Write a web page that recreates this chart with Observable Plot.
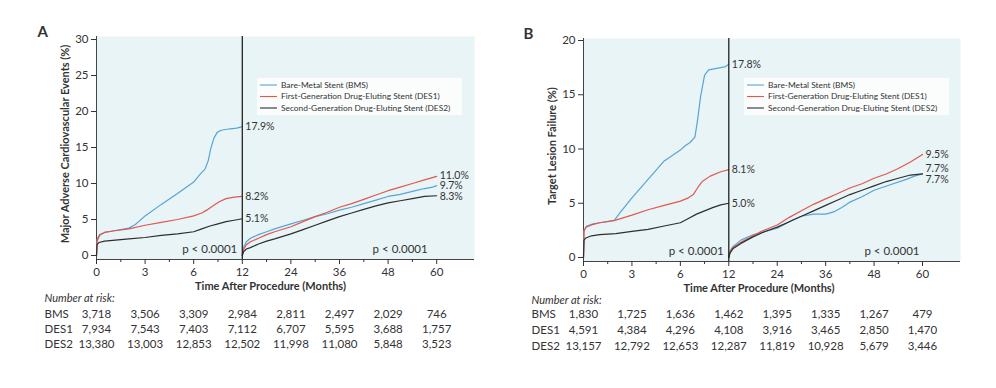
<!DOCTYPE html>
<html><head><meta charset="utf-8">
<script src="https://cdn.jsdelivr.net/npm/d3@7"></script>
<script src="https://cdn.jsdelivr.net/npm/@observablehq/plot@0.6"></script>
<style>
body{margin:0;background:#fff;font-family:Lato,"Open Sans",sans-serif;}
#wrap{position:relative;width:996px;height:388px;overflow:hidden;}
.panel{position:absolute;top:0;width:498px;}
.panel svg{display:block;}
</style></head><body>
<div id="wrap"><div class="panel" id="pa" style="left:0"></div><div class="panel" id="pb" style="left:498px"></div></div>
<script>
const seriesNames = ["BMS", "DES1", "DES2"];
const legendLabels = ["Bare-Metal Stent (BMS)", "First-Generation Drug-Eluting Stent (DES1)", "Second-Generation Drug-Eluting Stent (DES2)"];
const seriesColors = ["#58a5d5", "#e2574e", "#2e2e2e"];
const xTicks = [0, 3, 6, 12, 24, 36, 48, 60];
const xMinorTicks = [1.5, 4.5, 9, 18, 30, 42, 54];
const riskTimes = [0, 3, 6, 12, 24, 36, 48, 60];
const pValueText = "p < 0.0001";
const xTitle = "Time After Procedure (Months)";
const riskTitle = "Number at risk:";

// Panel A: Major adverse cardiovascular events (%)
const maceYTicks = [0, 5, 10, 15, 20, 25, 30];
const maceBmsEarly = [[0,0],[0.03,1.9],[0.2,2.8],[0.5,3.2],[1,3.4],[1.5,3.6],[2,3.8],[2.4,4.3],[3,5.5],[4,7.1],[5,8.6],[6,10.2],[6.8,11.3],[7.4,12.0],[7.8,13.2],[8.1,14.8],[8.5,16.3],[8.9,17.1],[9.4,17.4],[10.5,17.6],[11.3,17.7],[12,17.9]];
const maceDes1Early = [[0,0],[0.03,2.2],[0.2,2.9],[0.5,3.2],[1,3.4],[2,3.7],[3,4.2],[4,4.6],[5,5.0],[6,5.5],[7,5.9],[7.6,6.3],[8.4,6.9],[9.2,7.5],[10,7.9],[11,8.1],[12,8.2]];
const maceDes2Early = [[0,0],[0.03,1.5],[0.15,1.8],[0.5,2.0],[1,2.1],[2,2.3],[3,2.5],[4,2.8],[5,3.0],[6,3.3],[7,3.7],[8,4.1],[9,4.4],[10,4.7],[11,4.9],[12,5.1]];
const maceBmsLate = [[12,0],[12.2,1.0],[13,1.9],[14,2.4],[16,2.9],[18,3.3],[20,3.7],[24,4.4],[27,4.9],[30,5.4],[33,5.8],[36,6.3],[39,6.7],[42,7.2],[45,7.7],[48,8.2],[51,8.5],[54,8.9],[57,9.3],[59,9.5],[60,9.7]];
const maceDes1Late = [[12,0],[12.3,0.8],[13,1.5],[14,1.9],[16,2.4],[18,2.9],[20,3.3],[24,4.0],[27,4.7],[30,5.4],[33,6.0],[36,6.7],[39,7.2],[42,7.8],[45,8.4],[48,9.0],[51,9.5],[54,10.0],[57,10.5],[60,11.0]];
const maceDes2Late = [[12,0],[12.3,0.5],[13,0.9],[14,1.1],[16,1.6],[18,2.0],[20,2.3],[24,3.0],[27,3.6],[30,4.2],[33,4.8],[36,5.4],[39,5.9],[42,6.4],[45,6.9],[48,7.3],[51,7.6],[54,7.9],[57,8.2],[60,8.3]];
const maceRiskBMS = [3718, 3506, 3309, 2984, 2811, 2497, 2029, 746];
const maceRiskDES1 = [7934, 7543, 7403, 7112, 6707, 5595, 3688, 1757];
const maceRiskDES2 = [13380, 13003, 12853, 12502, 11998, 11080, 5848, 3523];

// Panel B: Target lesion failure (%)
const tlfYTicks = [0, 5, 10, 15, 20];
const tlfBmsEarly = [[0,0],[0.03,2.5],[0.2,2.9],[0.6,3.1],[1,3.2],[1.5,3.3],[1.9,3.4],[2.3,4.2],[3,5.5],[4,7.2],[5,8.9],[6,9.9],[6.6,10.3],[7.2,10.6],[7.8,11.1],[8.1,12.5],[8.5,14.8],[9.0,16.8],[9.5,17.3],[11,17.5],[11.6,17.6],[12,17.8]];
const tlfDes1Early = [[0,0],[0.03,2.4],[0.15,2.8],[0.5,3.0],[1,3.2],[2,3.45],[3,3.9],[4,4.4],[5,4.8],[6,5.2],[7,5.5],[7.6,5.8],[8.2,6.5],[8.7,7.0],[9.7,7.5],[11,7.9],[12,8.1]];
const tlfDes2Early = [[0,0],[0.03,1.6],[0.15,1.8],[0.5,2.0],[1,2.1],[2,2.2],[3,2.4],[4,2.6],[5,2.9],[6,3.2],[7,3.6],[8,4.0],[9,4.3],[10,4.6],[11,4.85],[12,5.0]];
const tlfBmsLate = [[12,0],[12.3,0.6],[13,1.0],[15,1.6],[18,2.1],[20,2.3],[24,2.7],[26,3.1],[28,3.5],[30,3.8],[33,4.0],[36,4.0],[38,4.2],[40,4.6],[42,5.1],[45,5.6],[48,6.2],[52,6.7],[56,7.2],[58,7.5],[60,7.7]];
const tlfDes1Late = [[12,0],[12.3,0.5],[13,0.9],[15,1.4],[18,2.0],[20,2.4],[24,3.0],[27,3.7],[30,4.3],[33,4.9],[36,5.4],[39,5.9],[42,6.4],[45,6.8],[48,7.3],[51,7.7],[54,8.2],[57,8.8],[60,9.5]];
const tlfDes2Late = [[12,0],[12.3,0.4],[13,0.8],[15,1.3],[18,1.9],[21,2.4],[24,2.8],[27,3.3],[30,3.8],[33,4.3],[36,4.8],[39,5.3],[42,5.8],[45,6.2],[48,6.6],[51,7.0],[54,7.3],[57,7.6],[60,7.7]];
const tlfRiskBMS = [1830, 1725, 1636, 1462, 1395, 1335, 1267, 479];
const tlfRiskDES1 = [4591, 4384, 4296, 4108, 3916, 3465, 2850, 1470];
const tlfRiskDES2 = [13157, 12792, 12653, 12287, 11819, 10928, 5679, 3446];

const FONT = "Lato, 'Open Sans', sans-serif";
const INK = "#333";
const BG = "#e8f4f6";
const fmtN = d3.format(",");
// The printed time axis gives equal room to each tick interval (0,3,6,12,24,36,48,60):
// warp months onto tick-index units, which the linear x scale then positions.
const warp = d3.scaleLinear().domain(xTicks).range(d3.range(xTicks.length));
const unwarp = i => xTicks[Math.round(i)];
const LABEL_GAP = 10.5;

function drawPanel(cfg) {
  const W = 498, H = 292;
  const xScale = {domain: [0, xTicks.length - 1], range: [cfg.marginLeft, cfg.marginLeft + (xTicks.length - 1) * cfg.xStep]};
  const curves = [];
  seriesNames.forEach((s, si) => {
    [["early", cfg.early[si]], ["late", cfg.late[si]]].forEach(([seg, arr]) => {
      arr.forEach(([t, v]) => curves.push({series: s, key: s + seg, t, v}));
    });
  });
  // end labels with simple vertical dodge (pixel space)
  const [d0, d1] = cfg.yDomain, [r0, r1] = cfg.yRange;
  const toPx = v => r0 + (v - d0) / (d1 - d0) * (r1 - r0);
  const toV = p => d0 + (p - r0) / (r1 - r0) * (d1 - d0);
  const labels = [];
  [[12, cfg.early], [60, cfg.late]].forEach(([tx, arrs]) => {
    const group = arrs.map(a => { const v = a[a.length - 1][1]; return {t: tx, v, p: toPx(v), text: v.toFixed(1) + "%"}; })
      .sort((a, b) => a.p - b.p);
    const clusters = [];
    group.forEach(g => {
      const last = clusters[clusters.length - 1];
      if (last && g.p - last[last.length - 1].p < LABEL_GAP) last.push(g); else clusters.push([g]);
    });
    clusters.forEach(c => {
      const adj = c.map((g, i) => c[0].p + i * LABEL_GAP);
      const shift = d3.mean(c.map((g, i) => adj[i] - g.p));
      c.forEach((g, i) => labels.push({t: g.t, y: toV(adj[i] - shift), text: g.text}));
    });
  });

  const chart = Plot.plot({
    width: W, height: H,
    marginLeft: cfg.marginLeft, marginRight: cfg.marginRight,
    marginTop: cfg.marginTop, marginBottom: H - cfg.frameBottom,
    style: {fontFamily: FONT, fontSize: "11.5px", color: INK, background: "transparent", overflow: "visible"},
    x: xScale,
    y: {domain: cfg.yDomain, range: cfg.yRange},
    color: {domain: seriesNames, range: seriesColors},
    marks: [
      Plot.frame({fill: BG, stroke: null}),
      Plot.ruleX([0], {stroke: "#444", strokeWidth: 1}),
      Plot.ruleY([0], {dy: cfg.frameBottom - cfg.yRange[0], stroke: "#444", strokeWidth: 1}),
      Plot.axisY({ticks: cfg.yTicks, tickSize: 5, tickPadding: 3, label: null, fontSize: 11.5}),
      Plot.axisX({ticks: xTicks.map(warp), tickSize: 5, tickPadding: 3, label: null, tickFormat: i => String(unwarp(i)), fontSize: 11.5}),
      Plot.axisX({ticks: xMinorTicks.map(warp), tickSize: 3, label: null, tickFormat: () => ""}),
      Plot.line(curves, {x: d => warp(d.t), y: "v", z: "key", stroke: "series", strokeWidth: 1.2}),
      Plot.ruleX([warp(12)], {stroke: "#222", strokeWidth: 1.3}),
      Plot.text(labels, {x: d => warp(d.t), y: "y", text: "text", dx: 3, textAnchor: "start", fontSize: 10.5, fill: INK}),
      Plot.text([pValueText], {x: () => warp(12), frameAnchor: "bottom", dx: cfg.pDx[0], dy: -10, textAnchor: "end", lineAnchor: "middle", fontSize: 11.5}),
      Plot.text([pValueText], {x: () => warp(60), frameAnchor: "bottom", dx: cfg.pDx[1], dy: -10, textAnchor: "end", lineAnchor: "middle", fontSize: 11.5}),
      Plot.text([cfg.yLabel], {frameAnchor: "left", rotate: -90, dx: -31, dy: -4, textAnchor: "middle", lineAnchor: "middle", fontWeight: "bold", fontSize: 11}),
      Plot.text([xTitle], {frameAnchor: "bottom", dx: cfg.xTitleDx, dy: 27, textAnchor: "middle", lineAnchor: "middle", fontWeight: "bold", fontSize: 11}),
      Plot.text([cfg.letter], {frameAnchor: "top-left", dx: cfg.letterDx, dy: -4, textAnchor: "start", lineAnchor: "middle", fontWeight: "bold", fontSize: 15})
    ]
  });

  // in-plot legend
  const g = d3.select(chart).append("g").attr("font-family", FONT).attr("font-size", 8.4)
    .attr("fill", INK).attr("text-anchor", "start");
  const lx = cfg.marginLeft + 161, ly = 78;
  g.append("rect").attr("x", lx).attr("y", ly).attr("width", 205).attr("height", 37).attr("fill", "#fbfdfd");
  seriesNames.forEach((s, i) => {
    const yy = ly + 7 + i * 11.5;
    g.append("line").attr("x1", lx + 3).attr("x2", lx + 20).attr("y1", yy).attr("y2", yy)
      .attr("stroke", seriesColors[i]).attr("stroke-width", 1.1);
    g.append("text").attr("x", lx + 24).attr("y", yy).attr("dy", "0.35em").text(legendLabels[i]);
  });

  // number-at-risk table
  const riskRows = [];
  seriesNames.forEach((s, si) => cfg.risk[si].forEach((n, i) => riskRows.push({series: s, t: riskTimes[i], n})));
  const table = Plot.plot({
    width: W, height: 90,
    marginLeft: cfg.marginLeft, marginRight: cfg.marginRight, marginTop: 0, marginBottom: 0,
    style: {fontFamily: FONT, fontSize: "11px", color: INK, background: "transparent", overflow: "visible"},
    x: {...xScale, axis: null},
    y: {type: "point", domain: seriesNames, range: cfg.rowRange, padding: 0, axis: null},
    marks: [
      Plot.text(riskRows, {x: d => warp(d.t), y: "series", text: d => fmtN(d.n), fontSize: 11.5}),
      Plot.text(seriesNames, {y: d => d, frameAnchor: "left", dx: -52, textAnchor: "start", fontSize: 11.5}),
      Plot.text([riskTitle], {frameAnchor: "top-left", dx: -52, dy: cfg.riskTitleDy, textAnchor: "start", lineAnchor: "middle", fontStyle: "italic", fontSize: 11})
    ]
  });
  const el = document.getElementById(cfg.el);
  el.appendChild(chart);
  el.appendChild(table);
}

drawPanel({
  el: "pa", letter: "A", yLabel: "Major Adverse Cardiovascular Events (%)",
  marginLeft: 96, marginRight: 24, marginTop: 36, frameBottom: 259, xStep: 48.6,
  yDomain: [0, 30], yRange: [255, 39], yTicks: maceYTicks,
  early: [maceBmsEarly, maceDes1Early, maceDes2Early],
  late: [maceBmsLate, maceDes1Late, maceDes2Late],
  risk: [maceRiskBMS, maceRiskDES1, maceRiskDES2],
  pDx: [-5, -9], xTitleDx: -15, letterDx: -59,
  rowRange: [21, 52], riskTitleDy: 6
});
drawPanel({
  el: "pb", letter: "B", yLabel: "Target Lesion Failure (%)",
  marginLeft: 85, marginRight: 36, marginTop: 38, frameBottom: 261, xStep: 48.43,
  yDomain: [0, 20], yRange: [257, 40], yTicks: tlfYTicks,
  early: [tlfBmsEarly, tlfDes1Early, tlfDes2Early],
  late: [tlfBmsLate, tlfDes1Late, tlfDes2Late],
  risk: [tlfRiskBMS, tlfRiskDES1, tlfRiskDES2],
  pDx: [-5, -3], xTitleDx: -13, letterDx: -60,
  rowRange: [22, 54], riskTitleDy: 8
});
</script>
</body></html>
